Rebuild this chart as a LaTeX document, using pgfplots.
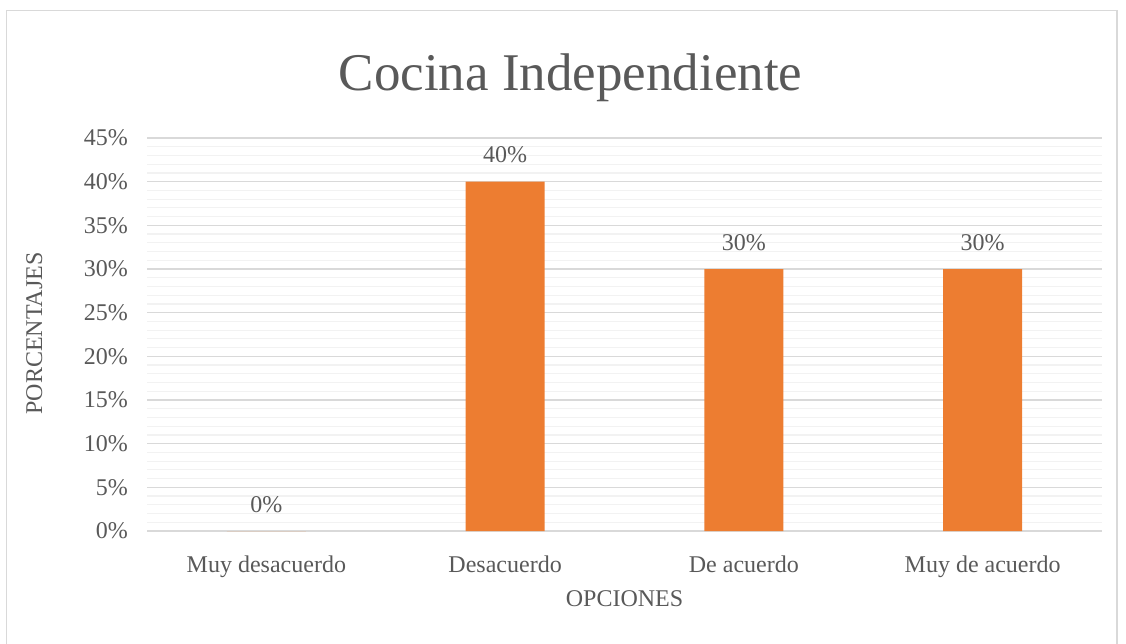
\documentclass[border=0pt]{standalone}
\usepackage{fontspec}
\setmainfont{Liberation Serif}
\usepackage{pgfplots}
\pgfplotsset{compat=1.18}
\definecolor{txt}{HTML}{595959}
\definecolor{barc}{HTML}{ED7D31}
\definecolor{gmaj}{HTML}{D9D9D9}
\definecolor{gmin}{HTML}{F2F2F2}
\definecolor{frame}{HTML}{D9D9D9}
\begin{document}
\begin{tikzpicture}[x=1pt,y=1pt]
\path[use as bounding box] (0,0) rectangle (1126,-644);
\draw[color=frame,line width=1.5pt] (6.5,-644) -- (6.5,-10.5) -- (1117,-10.5) -- (1117,-644);
\begin{axis}[
  at={(147pt,-531pt)}, anchor=south west,
  scale only axis, width=955pt, height=393pt,
  xmin=-0.5, xmax=3.5, ymin=0, ymax=45,
  axis line style={draw=none},
  tick style={draw=none},
  ytick={0,5,10,15,20,25,30,35,40,45},
  yticklabels={0\%,5\%,10\%,15\%,20\%,25\%,30\%,35\%,40\%,45\%},
  minor y tick num=4,
  ymajorgrids, yminorgrids,
  major grid style={draw=gmaj, line width=1.6pt},
  minor grid style={draw=gmin, line width=1.2pt},
  xtick={0,1,2,3},
  xticklabels={Muy desacuerdo, Desacuerdo, De acuerdo, Muy de acuerdo},
  ticklabel style={font=\fontsize{24}{28}\selectfont, text=txt},
  yticklabel style={anchor=east, inner sep=0pt, xshift=-19pt},
  xticklabel style={anchor=base, yshift=-37pt},
  ybar, bar width=79pt,
  point meta=explicit symbolic,
  nodes near coords,
  nodes near coords style={font=\fontsize{24}{28}\selectfont, text=txt, anchor=base, inner sep=0pt, yshift=19pt},
]
\addplot[fill=barc, draw=none] coordinates {
  (0,0) [0\%]
  (1,40) [40\%]
  (2,30) [30\%]
  (3,30) [30\%]
};
\end{axis}
\node[anchor=base, text=txt, font=\fontsize{53}{64}\selectfont] at (570.5,-91) {Cocina Independiente};
\node[anchor=base, text=txt, font=\fontsize{24}{28}\selectfont, rotate=90] at (42,-333.5) {PORCENTAJES};
\node[anchor=base, text=txt, font=\fontsize{24}{28}\selectfont] at (624.5,-606) {OPCIONES};
\end{tikzpicture}
\end{document}
